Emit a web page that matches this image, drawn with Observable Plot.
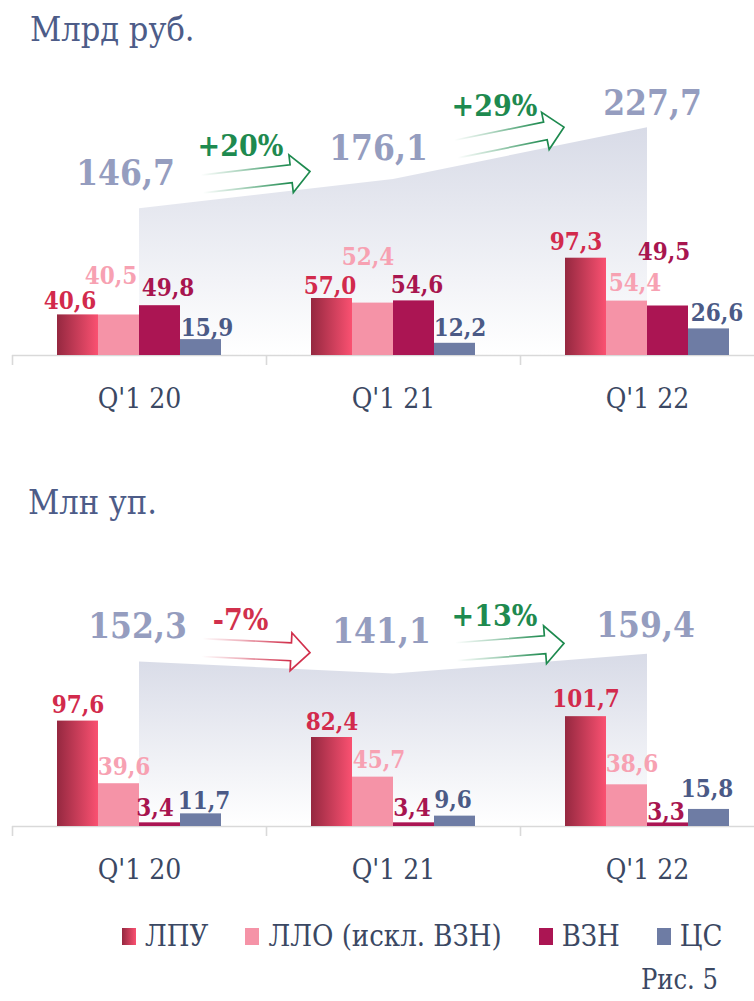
<!DOCTYPE html>
<html><head><meta charset="utf-8">
<script src="https://cdn.jsdelivr.net/npm/d3@7"></script>
<script src="https://cdn.jsdelivr.net/npm/@observablehq/plot@0.6"></script>
<style>
body{margin:0;background:#fff;}
#page{position:relative;width:754px;height:1001px;overflow:hidden;font-family:"DejaVu Serif Condensed","DejaVu Serif",serif;font-stretch:condensed;}
.title{position:absolute;color:#4d5c88;font-size:34px;line-height:34px;white-space:nowrap;}
.panel{position:absolute;left:0;}
#legend{position:absolute;left:122px;top:920px;display:flex;align-items:center;font-size:29px;color:#3b4863;line-height:32px;white-space:nowrap;}
.item{display:flex;align-items:center;margin-right:37px;}
.sw{width:14px;height:17px;margin-right:9px;}
#fig{position:absolute;right:36px;top:966px;font-size:27px;line-height:28px;color:#3b4863;}
</style></head><body><div id="page">
<div class="title" id="t1" style="left:30px;top:12px">Млрд руб.</div>
<div class="panel" id="p1" style="top:60px"></div>
<div class="title" id="t2" style="left:28px;top:485px">Млн уп.</div>
<div class="panel" id="p2" style="top:540px"></div>
<div id="legend"></div>
<div id="fig">Рис. 5</div>
</div>
<script>
// ---------- data ----------
const quarters = ["Q'1 20", "Q'1 21", "Q'1 22"];
const seriesNames = ["ЛПУ", "ЛЛО (искл. ВЗН)", "ВЗН", "ЦС"];

// Млрд руб.
const rubLPU = [40.6, 57.0, 97.3];
const rubLLO = [40.5, 52.4, 54.4];
const rubVZN = [49.8, 54.6, 49.5];
const rubCS  = [15.9, 12.2, 26.6];
const rubTotal = [146.7, 176.1, 227.7];
const rubGrowth = ["+20%", "+29%"];

// Млн уп.
const packLPU = [97.6, 82.4, 101.7];
const packLLO = [39.6, 45.7, 38.6];
const packVZN = [3.4, 3.4, 3.3];
const packCS  = [11.7, 9.6, 15.8];
const packTotal = [152.3, 141.1, 159.4];
const packGrowth = ["-7%", "+13%"];

// ---------- styling / layout ----------
const barColors = [null, "#f593a7", "#ab1553", "#6e7ca4"]; // ЛПУ uses a gradient
const labelColors = ["#d22a4c", "#f7a1b2", "#a8154f", "#4b5a86"];
const totalColor = "#959dbf";
const POS = "#1e8a4f", NEG = "#d1304c";
const BAR_W = 41 / 254; // bar width as fraction of one quarter slot
const FONT = '"DejaVu Serif Condensed","DejaVu Serif",serif';
const ARROW = {tail: -64, tip: 44, lift: 17, h: 9, H: 19, head: 19};
// manual label nudges (Excel-style label placement), px: [dx, dy]
const rubLabelNudge = [
  [[-8, 1], [-8, -24], [8, -3], [6, 3]],
  [[-2, 2], [-5, -31], [3, -1], [5, 0]],
  [[-10, -1], [8, -3], [-4, -39], [8, -1]]
];
const packLabelNudge = [
  [[0, -1], [5, -2], [-5, 0], [3, 2]],
  [[0, -1], [6, -2], [-2, 0], [-2, -1]],
  [[0, -3], [5, -6], [-2, 4], [-2, -5]]
];
const rubTotalNudge = [[-14, -24], [-15, -19], [5, -13]];
const packTotalNudge = [[-2, -24], [-12, -31], [-2, -17]];

const fmt = v => v.toFixed(1).replace(".", ",");

function defsMark(id) {
  return () => {
    const defs = d3.create("svg:defs");
    const lg = defs.append("linearGradient").attr("id", id + "-lpu")
      .attr("x1", 0).attr("x2", 1).attr("y1", 0).attr("y2", 0);
    lg.append("stop").attr("offset", 0).attr("stop-color", "#952840");
    lg.append("stop").attr("offset", 1).attr("stop-color", "#fa5171");
    const ag = defs.append("linearGradient").attr("id", id + "-area")
      .attr("x1", 0).attr("x2", 0).attr("y1", 0).attr("y2", 1);
    ag.append("stop").attr("offset", 0).attr("stop-color", "#d8dbe7");
    ag.append("stop").attr("offset", 1).attr("stop-color", "#ffffff");
    return defs.node();
  };
}

function arrowsMark(id, totals, growth) {
  return (index, scales) => {
    const g = d3.create("svg:g");
    const defs = g.append("defs");
    growth.forEach((label, k) => {
      const color = label.trim().startsWith("-") ? NEG : POS;
      const xa = scales.x(k + 0.5), xb = scales.x(k + 1.5);
      const ya = scales.y(totals[k]), yb = scales.y(totals[k + 1]);
      const ang = Math.atan2(yb - ya, xb - xa);
      const ux = Math.cos(ang), uy = Math.sin(ang), nx = -uy, ny = ux;
      const xm = (xa + xb) / 2;
      const x0 = xm + ARROW.tail;
      const len = (ARROW.tip - ARROW.tail) / ux;
      const ty = ya + (yb - ya) * (x0 - xa) / (xb - xa) - ARROW.lift;
      const P = (t, s) => [x0 + ux * t + nx * s, ty + uy * t + ny * s];
      const hb = len - ARROW.head;
      const pts = [P(0, -ARROW.h), P(hb, -ARROW.h), P(hb, -ARROW.H), P(len, 0), P(hb, ARROW.H), P(hb, ARROW.h), P(0, ARROW.h)];
      const gid = `${id}-arr${k}`;
      const [sx, sy] = P(0, 0), [ex, ey] = P(len, 0);
      const lg = defs.append("linearGradient").attr("id", gid).attr("gradientUnits", "userSpaceOnUse")
        .attr("x1", sx).attr("y1", sy).attr("x2", ex).attr("y2", ey);
      lg.append("stop").attr("offset", 0).attr("stop-color", color).attr("stop-opacity", 0);
      lg.append("stop").attr("offset", 0.35).attr("stop-color", color).attr("stop-opacity", 0.35);
      lg.append("stop").attr("offset", 0.8).attr("stop-color", color).attr("stop-opacity", 1);
      g.append("path").attr("d", "M" + pts.map(p => p.join(",")).join("L"))
        .attr("fill", "#ffffff").attr("stroke", `url(#${gid})`).attr("stroke-width", 1.7)
        .attr("stroke-linejoin", "miter");
    });
    return g.node();
  };
}

function panel({id, series, totals, growth, yMax, marginTop, marginBottom, nudges, totalNudges}) {
  const rows = [];
  series.forEach((vals, s) => vals.forEach((v, i) => rows.push({
    i, s, value: v,
    x1: i + 0.5 + (s - 2) * BAR_W,
    x2: i + 0.5 + (s - 1) * BAR_W
  })));
  const totalRows = totals.map((t, i) => ({i, total: t}));
  const growthRows = growth.map((g, k) => ({k, label: g, y: (totals[k] + totals[k + 1]) / 2}));
  const marks = [defsMark(id)];
  marks.push(Plot.areaY(totalRows, {x: d => d.i + 0.5, y1: 0, y2: "total", fill: `url(#${id}-area)`}));
  marks.push(Plot.ruleY([0], {stroke: "#d9d9d9", strokeWidth: 1.6}));
  marks.push(Plot.axisX({ticks: [0, 1, 2, 3], tickSize: 10, tickFormat: () => "", stroke: "#d9d9d9", strokeWidth: 1.6, label: null}));
  marks.push(Plot.axisX({ticks: [0.5, 1.5, 2.5], tickSize: 0, tickPadding: 33, tickFormat: d => quarters[Math.floor(d)],
    fontSize: 28, fill: "#3b4863", label: null}));
  series.forEach((vals, s) => {
    const fill = s === 0 ? `url(#${id}-lpu)` : barColors[s];
    marks.push(Plot.rectY(rows.filter(r => r.s === s), {x1: "x1", x2: "x2", y1: 0, y2: "value", fill}));
  });
  rows.forEach(r => {
    const [ndx, ndy] = nudges[r.i][r.s];
    marks.push(Plot.text([r], {x: d => (d.x1 + d.x2) / 2, y: "value", text: d => fmt(d.value),
      dx: ndx, dy: -7 + ndy, fill: labelColors[r.s], fontSize: 24, fontWeight: "bold", lineAnchor: "bottom"}));
  });
  totalRows.forEach(r => {
    const [ndx, ndy] = totalNudges[r.i];
    marks.push(Plot.text([r], {x: d => d.i + 0.5, y: "total", text: d => fmt(d.total), dx: ndx, dy: ndy,
      fill: totalColor, fontSize: 35, fontWeight: "bold", lineAnchor: "bottom"}));
  });
  marks.push(arrowsMark(id, totals, growth));
  growthRows.forEach(r => {
    marks.push(Plot.text([r], {x: d => d.k + 1, y: "y", text: "label", dx: -26, dy: -38,
      fill: r.label.startsWith("-") ? NEG : POS, fontSize: 30, fontWeight: "bold", lineAnchor: "bottom"}));
  });
  return Plot.plot({
    width: 754, height: 360, marginLeft: 12, marginRight: 0, marginTop, marginBottom,
    x: {domain: [0, 3], range: [12, 774]},
    y: {domain: [0, yMax], axis: null},
    style: {fontFamily: FONT, background: "transparent", fontStretch: "condensed"},
    marks
  });
}

document.getElementById("p1").append(panel({
  id: "rub", series: [rubLPU, rubLLO, rubVZN, rubCS], totals: rubTotal, growth: rubGrowth,
  yMax: 250, marginTop: 45, marginBottom: 65, nudges: rubLabelNudge, totalNudges: rubTotalNudge
}));
document.getElementById("p2").append(panel({
  id: "pack", series: [packLPU, packLLO, packVZN, packCS], totals: packTotal, growth: packGrowth,
  yMax: 250, marginTop: 16, marginBottom: 74, nudges: packLabelNudge, totalNudges: packTotalNudge
}));

// legend
const legend = d3.select("#legend");
seriesNames.forEach((name, s) => {
  const it = legend.append("div").attr("class", "item");
  it.append("div").attr("class", "sw")
    .style("background", s === 0 ? "linear-gradient(to right,#952840,#fa5171)" : barColors[s]);
  it.append("span").text(name);
});
</script>
</body></html>
